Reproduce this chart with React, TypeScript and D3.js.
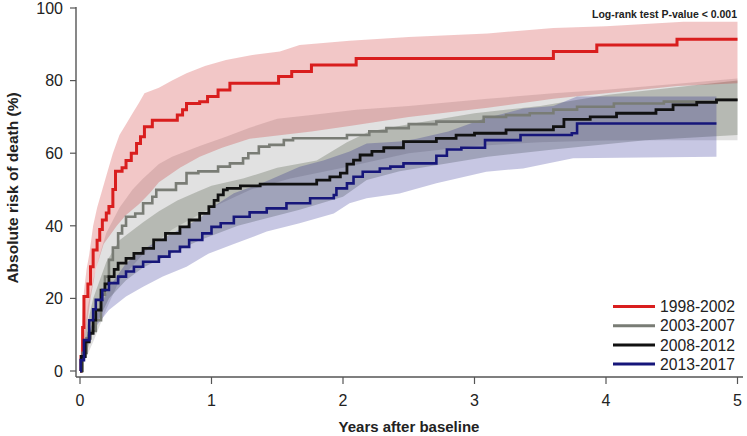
import React from "react";
import * as d3 from "d3";

type P = [number, number];

const xTicks = [0, 1, 2, 3, 4, 5];
const yTicks = [0, 20, 40, 60, 80, 100];
const seriesNames = ["1998-2002", "2003-2007", "2008-2012", "2013-2017"];
const seriesColors = ["#d91e1e", "#797c75", "#111111", "#16167a"];
const bandFills = ["rgba(200,20,20,0.24)", "rgba(128,128,128,0.24)", "rgba(30,45,20,0.22)", "rgba(0,0,128,0.22)"];
const lineWidths = [3, 2.6, 2.8, 2.6];

const redLine: P[] = [[0,0],[0.008,4],[0.02,12],[0.03,20.5],[0.06,24],[0.08,28.7],[0.1,33.3],[0.13,36],[0.15,39],[0.17,41.6],[0.2,43.5],[0.22,45.3],[0.25,50],[0.27,55],[0.32,56],[0.35,58],[0.39,60],[0.43,62.7],[0.46,64.5],[0.49,67.3],[0.55,69.1],[0.74,70.5],[0.78,72],[0.81,73.7],[0.91,74.2],[0.97,75.6],[1.05,77.4],[1.14,79.3],[1.51,81.1],[1.61,82.5],[1.76,84.3],[2.1,86.1],[3.6,88],[3.93,89.8],[4.54,91.4],[5.0,91.4]];
const redUpper: P[] = [[0,0],[0.01,10],[0.03,22],[0.05,28],[0.07,32],[0.1,40],[0.13,45],[0.17,50],[0.21,55],[0.25,60],[0.3,65],[0.35,68],[0.4,71],[0.45,74],[0.49,76.5],[0.6,78],[0.7,80],[0.81,82],[0.95,84],[1.11,85.7],[1.3,87],[1.52,88],[1.67,89.8],[2.05,91],[2.5,92],[3.1,93],[3.6,94.5],[4.0,95],[4.59,96.2],[5.0,96.2]];
const redLower: P[] = [[0,0],[0.02,4],[0.05,12],[0.08,20],[0.12,28],[0.18,35],[0.28,40],[0.35,43],[0.45,46],[0.53,49],[0.6,52],[0.76,56],[0.91,59],[1.08,61.5],[1.29,64],[1.76,66],[2.05,67.5],[2.5,70],[3.1,72.5],[3.6,75],[4.0,76.5],[4.54,78.5],[5.0,79.3]];

const greyLine: P[] = [[0,0],[0.02,5],[0.05,9],[0.08,11],[0.12,14],[0.16,21],[0.19,26],[0.22,30.6],[0.25,34],[0.29,37.9],[0.32,40],[0.35,42.5],[0.42,43.4],[0.48,46.2],[0.55,48],[0.58,49.9],[0.73,51.7],[0.81,54.5],[0.9,55],[1.05,56.3],[1.14,57.2],[1.24,58.6],[1.28,60],[1.36,61.8],[1.44,62.3],[1.55,63.6],[1.62,64.1],[2.03,65],[2.2,66],[2.33,66.9],[2.5,68],[2.71,68.7],[3.07,70],[3.24,70.5],[3.42,71],[3.6,72],[3.78,72.8],[4.06,73.7],[4.44,74.2],[4.84,74.7],[5.0,74.7]];
const greyUpper: P[] = [[0,0],[0.03,10],[0.06,18],[0.1,25],[0.15,32],[0.2,38],[0.3,45],[0.4,50],[0.48,53],[0.6,57],[0.7,59],[0.91,62],[1.11,64.5],[1.29,67],[1.5,69.5],[1.76,70.5],[2.1,72],[2.5,73],[3.1,75],[3.6,76.5],[4.0,77.5],[4.5,79],[5.0,80.6]];
const greyLower: P[] = [[0,0],[0.05,4],[0.1,8],[0.2,17],[0.3,25],[0.5,33],[0.7,39],[1.0,45],[1.3,50],[1.6,53],[2.0,56],[2.5,60],[3.0,62],[3.5,63],[4.0,63.5],[4.5,63.6],[5.0,63.6]];

const blackLine: P[] = [[0,0],[0.01,4],[0.04,8],[0.07,10.4],[0.1,14],[0.12,16.8],[0.16,22.3],[0.19,24],[0.22,26],[0.26,28],[0.29,29.7],[0.35,31],[0.41,32.4],[0.48,33.8],[0.56,36.1],[0.65,37.9],[0.76,39.7],[0.83,41.6],[0.91,43.4],[0.98,45.3],[1.02,47],[1.05,48.5],[1.09,49.9],[1.12,50.3],[1.22,51],[1.37,51.5],[1.8,52.6],[1.9,53.5],[1.98,54.5],[2.03,57],[2.08,58.1],[2.13,59.5],[2.22,60.5],[2.31,61.5],[2.46,63.2],[2.71,64.1],[2.86,65],[3.0,65.5],[3.24,66.4],[3.6,67.3],[3.68,69.3],[3.88,70],[4.08,71],[4.38,72],[4.51,73.3],[4.69,74],[4.84,74.7],[5.0,74.7]];
const blackUpper: P[] = [[0,0],[0.05,12],[0.1,20],[0.2,30],[0.3,36],[0.48,41],[0.6,44],[0.74,47],[0.9,49.5],[1.0,51],[1.24,53],[1.5,56],[1.8,58],[2.03,63],[2.2,66],[2.5,68],[3.0,71],[3.5,73],[4.0,76],[4.5,78],[5.0,80]];
const blackLower: P[] = [[0,0],[0.05,5],[0.1,11],[0.22,20],[0.35,25],[0.48,28.5],[0.73,33],[0.91,36],[1.2,40],[1.67,44.4],[2.0,48],[2.18,52.6],[2.43,55],[3.1,59],[3.6,61],[4.3,63.6],[5.0,65]];

const blueLine: P[] = [[0,0],[0.005,3],[0.03,8.5],[0.07,14],[0.1,17],[0.12,19.6],[0.17,22.3],[0.22,24.2],[0.29,26],[0.35,27.4],[0.41,28.7],[0.48,30.1],[0.6,31.5],[0.68,32.9],[0.76,34.2],[0.83,36.1],[0.93,37.9],[1.0,39.7],[1.07,40.7],[1.17,42.5],[1.29,43.7],[1.42,44.8],[1.57,46.2],[1.75,47.6],[1.93,48.5],[1.95,50.3],[2.03,51.7],[2.08,53.5],[2.15,54.9],[2.28,55.8],[2.36,56.3],[2.46,57.2],[2.71,59.3],[2.79,61],[2.9,61.5],[3.08,63.6],[3.35,65],[3.74,65.5],[3.78,68.2],[4.84,68.2]];
const blueUpper: P[] = [[0,0],[0.03,8],[0.1,13.5],[0.22,23],[0.35,29.7],[0.48,33.5],[0.6,36],[0.73,38.4],[0.91,42],[1.0,45],[1.17,49],[1.4,52],[1.67,56.3],[1.85,58],[2.05,60.5],[2.18,62.7],[2.43,63.2],[2.56,64],[2.8,66],[3.07,69.5],[3.37,72.3],[3.6,73],[3.78,75.6],[4.84,75.6]];
const blueLower: P[] = [[0,0],[0.02,2],[0.05,6.7],[0.12,12.2],[0.22,16.8],[0.35,20.5],[0.48,23.2],[0.63,26],[0.81,28.7],[0.98,32.4],[1.17,35],[1.42,38.4],[1.67,40.7],[1.93,43.4],[2.05,46.2],[2.18,47.6],[2.43,48.9],[2.71,51.7],[3.09,54.9],[3.37,55.8],[3.75,58.6],[4.84,59]];

const lines = [redLine, greyLine, blackLine, blueLine];
const uppers = [redUpper, greyUpper, blackUpper, blueUpper];
const lowers = [redLower, greyLower, blackLower, blueLower];

export default function App() {
  const W = 747, H = 436;
  const x = d3.scaleLinear().domain([0, 5]).range([80, 737.5]);
  const y = d3.scaleLinear().domain([0, 100]).range([371, 8]);
  const axisColor = "#555";
  const font = "'Liberation Sans', Arial, sans-serif";

  const line = d3.line<P>().x(d => x(d[0])).y(d => y(d[1])).curve(d3.curveStepAfter);
  const edge = d3.line<P>().x(d => x(d[0])).y(d => y(d[1])).curve(d3.curveLinear);

  const bandPath = (lo: P[], hi: P[]) => {
    const top = edge(hi) || "";
    const bottom = edge([...lo].reverse()) || "";
    return top + "L" + bottom.slice(1) + "Z";
  };

  const bandOrder = [1, 2, 3, 0];
  const lineOrder = [0, 1, 2, 3];
  const legendY = [306.5, 325.7, 344.9, 364.1];

  return (
    <svg width={W} height={H} style={{ position: "absolute", left: 0, top: 0 }} fontFamily={font}>
      <rect x={0} y={0} width={W} height={H} fill="#fff" />
      {bandOrder.map(i => (
        <path key={"b" + i} d={bandPath(lowers[i], uppers[i])} fill={bandFills[i]} stroke="none" />
      ))}
      {lineOrder.map(i => (
        <path key={"l" + i} d={line(lines[i]) || ""} fill="none" stroke={seriesColors[i]} strokeWidth={lineWidths[i]} />
      ))}
      <line x1={76} x2={76} y1={7} y2={377} stroke={axisColor} strokeWidth={1.4} />
      <line x1={76} x2={743} y1={377} y2={377} stroke={axisColor} strokeWidth={1.4} />
      {yTicks.map(v => (
        <g key={"y" + v}>
          <line x1={70} x2={76} y1={y(v)} y2={y(v)} stroke={axisColor} strokeWidth={1.2} />
          <text x={63} y={y(v)} dy="0.36em" textAnchor="end" fontSize={16} fill="#222">{v}</text>
        </g>
      ))}
      {xTicks.map(v => (
        <g key={"x" + v}>
          <line x1={x(v)} x2={x(v)} y1={377} y2={384} stroke={axisColor} strokeWidth={1.2} />
          <text x={x(v)} y={405.5} textAnchor="middle" fontSize={16} fill="#222">{v}</text>
        </g>
      ))}
      <text x={409} y={432} textAnchor="middle" fontSize={15} fontWeight="bold" fill="#222">Years after baseline</text>
      <text transform="translate(18,188) rotate(-90)" textAnchor="middle" fontSize={15.5} fontWeight="bold" fill="#222">Absolute risk of death (%)</text>
      <text x={737} y={18} textAnchor="end" fontSize={10.5} fontWeight="bold" fill="#222">Log-rank test P-value &lt; 0.001</text>
      {seriesNames.map((n, i) => (
        <g key={"lg" + i}>
          <line x1={613} x2={655} y1={legendY[i]} y2={legendY[i]} stroke={seriesColors[i]} strokeWidth={3} />
          <text x={660} y={legendY[i]} dy="0.36em" fontSize={15.7} fill="#222">{n}</text>
        </g>
      ))}
    </svg>
  );
}
